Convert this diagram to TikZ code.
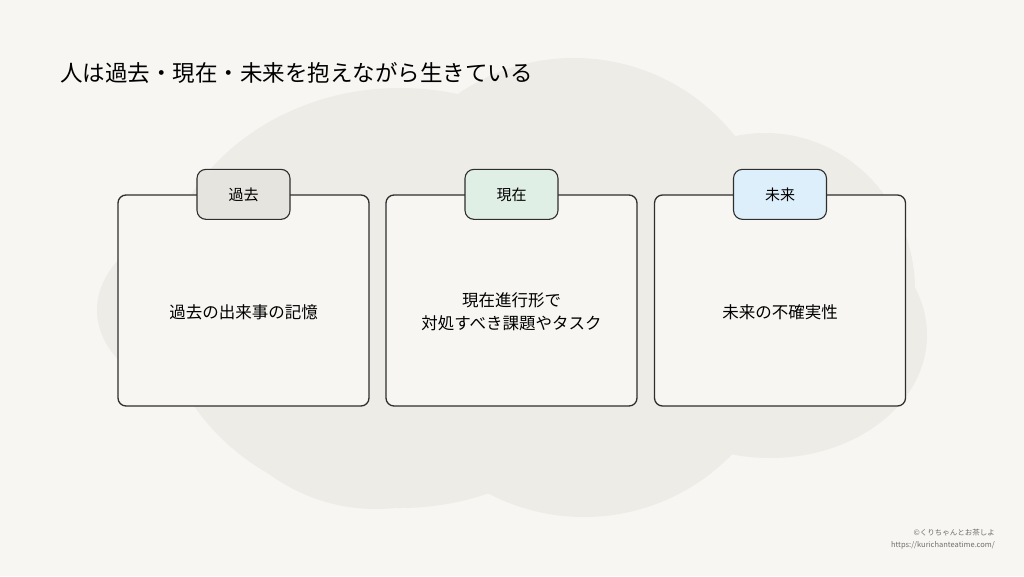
\documentclass[tikz,border=0pt]{standalone}
\usepackage{fontspec}
\setmainfont{Noto Sans CJK JP}
\usetikzlibrary{positioning}

\definecolor{bgpaper}{HTML}{F7F6F2}
\definecolor{cloudgray}{HTML}{EDECE7}
\definecolor{inkline}{HTML}{2E2E2E}
\definecolor{tabpast}{HTML}{E6E4DE}
\definecolor{tabnow}{HTML}{E0EFE5}
\definecolor{tabfuture}{HTML}{DDEFFA}
\definecolor{creditgray}{HTML}{6E6E6E}

\begin{document}
\begin{tikzpicture}[x=1pt, y=-1pt,
    card/.style={draw=inkline, line width=1.3pt, fill=bgpaper, rounded corners=8pt,
      minimum width=251pt, minimum height=211pt, inner sep=0pt},
    tab/.style={draw=inkline, line width=1.1pt, rounded corners=9pt,
      minimum width=93pt, minimum height=50pt, inner sep=0pt,
      font=\fontsize{15}{18}\selectfont},
    cardtext/.style={align=center, font=\fontsize{16.5}{23}\selectfont},
    credit/.style={anchor=east, text=creditgray, inner sep=0pt, font=\fontsize{7.5}{9}\selectfont}
  ]

  % Hintergrund
  \fill[bgpaper] (0,0) rectangle (1024,576);
  \useasboundingbox (0,0) rectangle (1024,576);

  % Wolke aus Ellipsen
  \fill[cloudgray] (400,298) ellipse [x radius=240pt, y radius=210pt];
  \fill[cloudgray] (574,263) circle [radius=205pt];
  \fill[cloudgray] (765,290) ellipse [x radius=150pt, y radius=157pt];
  \fill[cloudgray] (770,335) ellipse [x radius=157pt, y radius=123pt];
  \fill[cloudgray] (584,311) circle [radius=206pt];
  \fill[cloudgray] (376,328) circle [radius=181pt];
  \fill[cloudgray] (240,310) ellipse [x radius=143pt, y radius=95pt];

  % Titel
  \node[anchor=west, inner sep=0pt, font=\fontsize{22.5}{26}\selectfont] (title) at (60,73)
    {人は過去・現在・未来を抱えながら生きている};

  % Karten
  \node[card] (past) at (243.5,300.5) {};
  \node[card] (now) at (511.5,300.5) {};
  \node[card] (future) at (780,300.5) {};

  % Reiter oben auf den Karten
  \node[tab, fill=tabpast] (pasttab) at (past.north) {過去};
  \node[tab, fill=tabnow] (nowtab) at (now.north) {現在};
  \node[tab, fill=tabfuture] (futuretab) at (future.north) {未来};

  % Inhalte
  \node[cardtext] (pasttext) at (243.5,312) {過去の出来事の記憶};
  \node[cardtext] (nowtext) at (511.5,312) {現在進行形で\\対処すべき課題やタスク};
  \node[cardtext] (futuretext) at (780,312) {未来の不確実性};

  % Quelle unten rechts
  \node[credit] (creditname) at (995,533) {©くりちゃんとお茶しよ};
  \node[credit] (crediturl) at (995,545) {https://kurichanteatime.com/};

\end{tikzpicture}
\end{document}
